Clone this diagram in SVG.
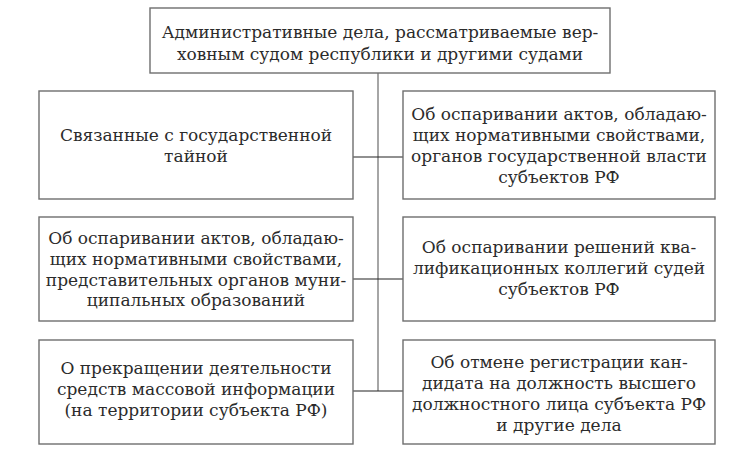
<svg xmlns="http://www.w3.org/2000/svg" width="735" height="456" viewBox="0 0 735 456">
<style>
.box{fill:#fff;stroke:#6e6e6e;stroke-width:1.4}
.t{font-family:"DejaVu Serif","Liberation Serif",serif;font-size:17px;fill:#2b2b2b;text-anchor:middle}
.v{stroke:#808080;stroke-width:1.4;fill:none}
.h{stroke:#222;stroke-width:1.2;fill:none}
</style>
<rect width="735" height="456" fill="#fff"/>
<g id="connectors">
<line class="v" x1="378" y1="73" x2="378" y2="391"/>
<line class="h" x1="353" y1="157" x2="403" y2="157"/>
<line class="h" x1="353" y1="279" x2="403" y2="279"/>
<line class="h" x1="353" y1="391" x2="403" y2="391"/>
</g>
<g id="root">
<rect class="box" x="150" y="8" width="460" height="65"/>
<text class="t" x="380" y="38">Административные дела, рассматриваемые вер-</text>
<text class="t" x="380" y="60">ховным судом республики и другими судами</text>
</g>
<g id="secret">
<rect class="box" x="39" y="91" width="314" height="108"/>
<text class="t" x="196" y="141">Связанные с государственной</text>
<text class="t" x="196" y="162">тайной</text>
</g>
<g id="regional-acts">
<rect class="box" x="403" y="91" width="312" height="108"/>
<text class="t" x="559" y="120">Об оспаривании актов, обладаю-</text>
<text class="t" x="559" y="141">щих нормативными свойствами,</text>
<text class="t" x="559" y="162">органов государственной власти</text>
<text class="t" x="559" y="183">субъектов РФ</text>
</g>
<g id="municipal-acts">
<rect class="box" x="39" y="217" width="314" height="104"/>
<text class="t" x="196" y="244">Об оспаривании актов, обладаю-</text>
<text class="t" x="196" y="265">щих нормативными свойствами,</text>
<text class="t" x="196" y="286">представительных органов муни-</text>
<text class="t" x="196" y="306">ципальных образований</text>
</g>
<g id="qualification">
<rect class="box" x="403" y="217" width="312" height="104"/>
<text class="t" x="559" y="253">Об оспаривании решений ква-</text>
<text class="t" x="559" y="274">лификационных коллегий судей</text>
<text class="t" x="559" y="295">субъектов РФ</text>
</g>
<g id="media">
<rect class="box" x="39" y="340" width="314" height="104"/>
<text class="t" x="196" y="374">О прекращении деятельности</text>
<text class="t" x="196" y="395">средств массовой информации</text>
<text class="t" x="196" y="416">(на территории субъекта РФ)</text>
</g>
<g id="registration">
<rect class="box" x="403" y="340" width="312" height="104"/>
<text class="t" x="559" y="368">Об отмене регистрации кан-</text>
<text class="t" x="559" y="389">дидата на должность высшего</text>
<text class="t" x="559" y="410">должностного лица субъекта РФ</text>
<text class="t" x="559" y="431">и другие дела</text>
</g>
</svg>
